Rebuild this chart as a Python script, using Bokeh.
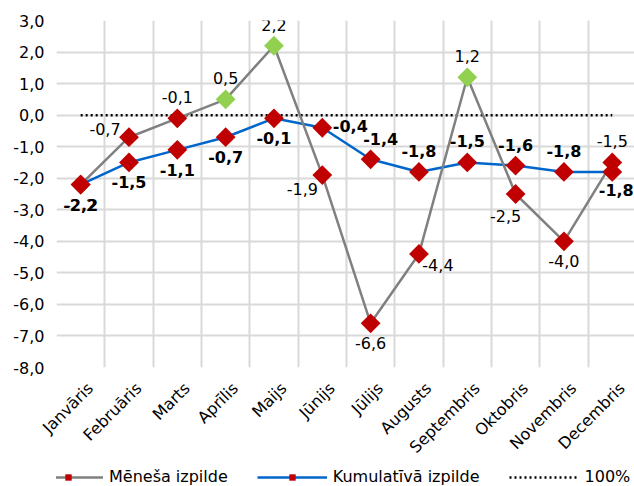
import math
from bokeh.plotting import figure
from bokeh.layouts import column
from bokeh.core.properties import value
from bokeh.models import (ColumnDataSource, Range1d, FixedTicker, CustomJSTickFormatter,
                          LabelSet, Label, Legend, LegendItem)
from bokeh.embed import file_html
from bokeh.resources import INLINE

# ---- data ----
months = ["Janvāris", "Februāris", "Marts", "Aprīlis", "Maijs", "Jūnijs",
          "Jūlijs", "Augusts", "Septembris", "Oktobris", "Novembris", "Decembris"]
monthly = [-2.2, -0.7, -0.1, 0.5, 2.2, -1.9, -6.6, -4.4, 1.2, -2.5, -4.0, -1.5]
cumulative = [-2.2, -1.5, -1.1, -0.7, -0.1, -0.4, -1.4, -1.8, -1.5, -1.6, -1.8, -1.8]
target = [0.0, 0.0, 0.0, 0.0, 0.0, 0.0, 0.0, 0.0, 0.0, 0.0, 0.0, 0.0]
y_ticks = [3, 2, 1, 0, -1, -2, -3, -4, -5, -6, -7, -8]
title_text = "kumulatīvā plāna izpildes dinamika, %"
series_names = ["Mēneša izpilde", "Kumulatīvā izpilde", "100%"]

# ---- label placement (styles) ----
OFFS = {
    "above": (0, -21), "below": (0, 20), "left": (-24, -8), "right": (28, -2),
    "left_below": (-20, 14), "below_left": (-10, 22), "right_below": (19, 11),
    "above_right": (10, -20), "below_right": (4, 18),
}
monthly_pos = ["below", "left", "above", "above", "above", "left_below", "below",
               "right_below", "above", "below_left", "below", "above"]
cum_pos = ["below", "below", "below", "below", "below", "right", "above_right",
           "above", "above", "above", "above", "below_right"]
TICK_LABEL_SHIFT = 0.2   # rotated category labels sit a little right of the category centre

FONT = "DejaVu Sans"
RED = "#C00000"
GREEN = "#92D050"
GRAY = "#808080"
BLUE = "#0066CC"

def fmt(v):
    return f"{v:.1f}".replace(".", ",")

xs = list(range(len(months)))

src_m = ColumnDataSource(dict(
    x=xs, y=monthly,
    color=[GREEN if v > 0 else RED for v in monthly],
    text=[fmt(v) for v in monthly],
    dx=[OFFS[p][0] for p in monthly_pos],
    dy=[-OFFS[p][1] for p in monthly_pos],
))
src_c = ColumnDataSource(dict(
    x=xs, y=cumulative,
    text=[fmt(v) for v in cumulative],
    dx=[OFFS[p][0] for p in cum_pos],
    dy=[-OFFS[p][1] for p in cum_pos],
))
src_t = ColumnDataSource(dict(x=xs, y=target))

p = figure(width=634, height=466, output_backend="svg", toolbar_location=None,
           x_range=Range1d(-0.5, 11.46), y_range=Range1d(-8, 3),
           min_border_left=56, min_border_right=0, min_border_top=20,
           min_border_bottom=96)
p.outline_line_color = None
p.background_fill_color = "white"
p.border_fill_color = "white"

# grid
p.xgrid.ticker = FixedTicker(ticks=[i - 0.5 for i in range(len(months) + 1)])
p.ygrid.ticker = FixedTicker(ticks=y_ticks)
for g in (p.xgrid, p.ygrid):
    g.grid_line_color = "#D9D9D9"
    g.grid_line_width = 2

# axes
p.xaxis.ticker = FixedTicker(ticks=[i + TICK_LABEL_SHIFT for i in xs])
p.xaxis.formatter = CustomJSTickFormatter(args=dict(labels=months),
                                          code="return labels[Math.round(tick)];")
p.xaxis.major_label_orientation = math.pi / 4
p.yaxis.ticker = FixedTicker(ticks=y_ticks)
p.yaxis.formatter = CustomJSTickFormatter(code="return tick.toFixed(1).replace('.', ',');")
for ax in (p.xaxis, p.yaxis):
    ax.axis_line_color = None
    ax.major_tick_line_color = None
    ax.minor_tick_line_color = None
    ax.major_label_text_font = FONT
    ax.major_label_text_font_size = "16px"
    ax.major_label_text_color = "#000000"
p.yaxis.major_label_standoff = 6
p.xaxis.major_label_standoff = 12

# series
def draw_series(fig):
    rt = fig.line("x", "y", source=src_t, line_color="black", line_width=2.5, line_dash="2 3")
    rc = fig.line("x", "y", source=src_c, line_color=BLUE, line_width=2.5)
    rm = fig.line("x", "y", source=src_m, line_color=GRAY, line_width=2.5)
    sc = fig.scatter("x", "y", source=src_c, marker="square", angle=math.pi / 4, size=14,
                     fill_color=RED, line_color=None)
    sm = fig.scatter("x", "y", source=src_m, marker="square", angle=math.pi / 4, size=14,
                     fill_color="color", line_color=None)
    return rt, rc, rm, sc, sm

draw_series(p)

# data labels
p.add_layout(LabelSet(x="x", y="y", text="text", source=src_m, x_offset="dx", y_offset="dy",
                      text_align="center", text_baseline="middle", text_font=value(FONT),
                      text_font_size="16px", text_color="#000000"))
p.add_layout(LabelSet(x="x", y="y", text="text", source=src_c, x_offset="dx", y_offset="dy",
                      text_align="center", text_baseline="middle", text_font=value(FONT),
                      text_font_size="16px", text_font_style="bold", text_color="#000000"))

# title (top cut off as in the reference)
p.add_layout(Label(x=10, y=366, x_units="screen", y_units="screen", text=title_text,
                   text_font=FONT, text_font_size="24px", text_font_style="bold",
                   text_color="#A52A2A", text_align="left", text_baseline="alphabetic"))

# ---- legend strip (same series, ranges chosen so only the legend shows) ----
lg = figure(width=634, height=20, output_backend="svg", toolbar_location=None,
            x_axis_type=None, y_axis_type=None, x_range=Range1d(0, 1),
            y_range=Range1d(100, 101), min_border=0, min_border_left=0)
lg.outline_line_color = None
lg.grid.visible = False
k_t, k_c, k_m, k_cs, k_ms = draw_series(lg)
legend = Legend(items=[
    LegendItem(label=series_names[0], renderers=[k_m, k_ms]),
    LegendItem(label=series_names[1], renderers=[k_c, k_cs]),
    LegendItem(label=series_names[2], renderers=[k_t]),
], orientation="horizontal", location=(-23, 0), glyph_width=70, glyph_height=16,
   label_standoff=6, spacing=29, padding=0, margin=0, border_line_color=None,
   background_fill_alpha=0, label_text_font=FONT, label_text_font_size="16px",
   label_text_color="#000000")
lg.add_layout(legend)

open("out.html", "w").write(file_html(column(p, lg, spacing=0), INLINE))
